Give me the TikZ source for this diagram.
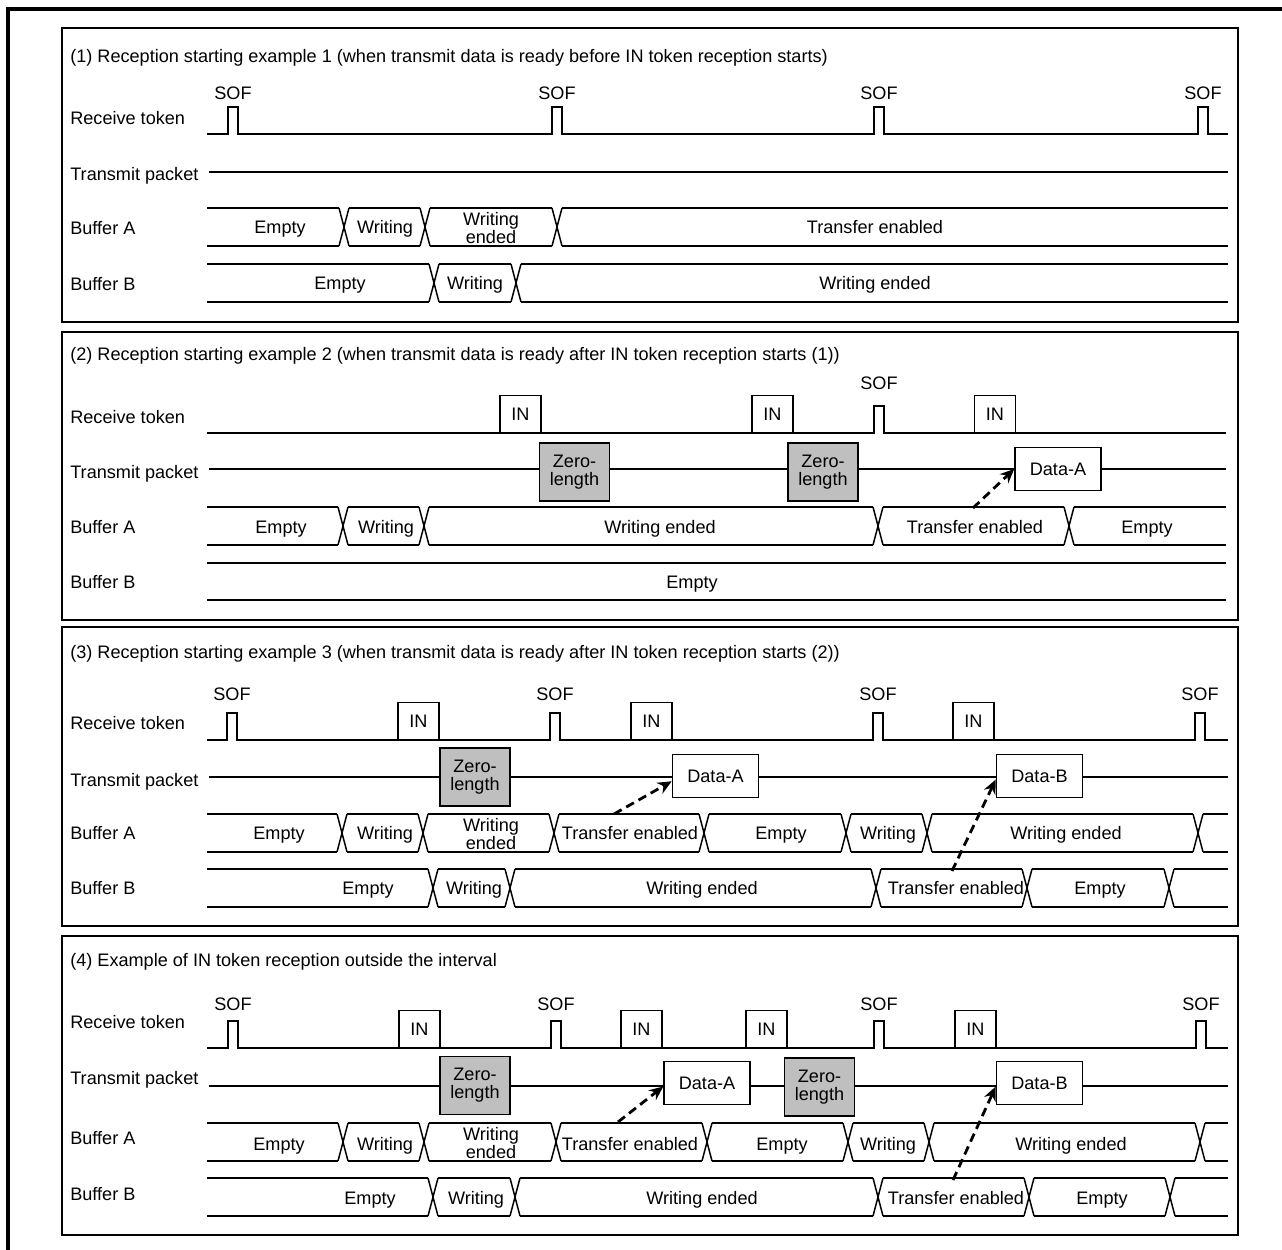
\documentclass[tikz,border=0pt]{standalone}
\usepackage{fontspec}
\setmainfont{Liberation Sans}
\usetikzlibrary{arrows.meta}
\tikzset{>={Stealth[length=8pt,width=7pt]},every node/.style={font=\fontsize{10.3}{10.4}\selectfont},sig/.style={line width=.85pt},cadre/.style={line width=1.1pt},nom/.style={anchor=west,inner sep=0,text height=7.3pt,text depth=0pt},etat/.style={inner sep=0,text height=7.3pt,text depth=0pt},deux/.style={inner sep=0,align=center}}
\tikzset{jeton/.style={draw,sig,fill=white,minimum width=.82cm,minimum height=.74cm,inner sep=0,anchor=south,text height=7.3pt,text depth=0pt},paquet/.style={draw,sig,fill=white,minimum width=1.72cm,minimum height=.86cm,inner sep=0,text height=7.3pt,text depth=0pt},
vide/.style={draw,sig,fill=gray!50,minimum width=1.4cm,minimum height=1.16cm,inner sep=0,align=center},trig/.style={->,line width=1.6pt,dash pattern=on 5pt off 3pt}}
% ligne des jetons : #1 y, #2 debut, #3 fin, #4 impulsions SOF
\newcommand{\ligne}[4]{\draw[sig] (#2,#1) foreach \p in {#4}{ -- (\p,#1) -- ++(0,-27) -- ++(10,0) -- ++(0,27)} -- (#3,#1);}
% bus : #1 y milieu, #2 debut, #3 fin, #4 transitions
\newcommand{\voie}[4]{\foreach \t [remember=\t as \q (initially #2-5)] in {#4,#3+5}{\draw[sig] (\q+5,#1-19)--(\t-5,#1-19) (\q+5,#1+19)--(\t-5,#1+19);}
\foreach \t in {#4}{\draw[sig] (\t-5,#1-19)--(\t+5,#1+19) (\t-5,#1+19)--(\t+5,#1-19);}}

\begin{document}
\begin{tikzpicture}[x=.02cm,y=-.02cm]
\useasboundingbox (0,0) rectangle (1282,1250);
\draw[line width=2pt] (8,1250)--(8,9)--(1282,9);
% (1)
\draw[cadre] (62,28) rectangle (1238,322);
\node[nom] (ti1) at (70,56) {(1) Reception starting example 1 (when transmit data is ready before IN token reception starts)};
\node[nom] (rt1) at (70,118) {Receive token};\node[nom] (tp1) at (70,174) {Transmit packet};\node[nom] (ba1) at (70,228) {Buffer A};\node[nom] (bb1) at (70,284) {Buffer B};
\ligne{134}{207}{1228}{228,552,874,1198}
\foreach \p [count=\i] in {228,552,874,1198} \node[etat] (sof1\i) at (\p+5,93) {SOF};
\draw[sig] (209,172)--(1228,172);
\voie{227}{207}{1228}{344,425,557}
\foreach \x/\s [count=\i] in {280/Empty,385/Writing,875/Transfer enabled} \node[etat] (ea1\i) at (\x,227) {\s};
\node[deux] (we1) at (491,228) {Writing\\ended};
\voie{283}{207}{1228}{434,516}
\foreach \x/\s [count=\i] in {340/Empty,475/Writing,875/Writing ended} \node[etat] (eb1\i) at (\x,283) {\s};
% (2)
\draw[cadre] (62,332) rectangle (1238,620);
\node[nom] (ti2) at (70,354) {(2) Reception starting example 2 (when transmit data is ready after IN token reception starts (1))};
\node[nom] (rt2) at (70,417) {Receive token};\node[nom] (tp2) at (70,472) {Transmit packet};\node[nom] (ba2) at (70,527) {Buffer A};\node[nom] (bb2) at (70,582) {Buffer B};
\ligne{433}{207}{1226}{874}
\node[etat] (sof21) at (879,383) {SOF};
\foreach \x [count=\i] in {520.5,772.5,995} \node[jeton] (in2\i) at (\x,433) {IN};
\draw[sig] (209,469)--(1226,469);
\node[vide] (z21) at (574.5,472) {Zero-\\length};\node[vide] (z22) at (823,472) {Zero-\\length};
\node[paquet] (dA2) at (1058,469) {Data-A};
\voie{526}{207}{1226}{343,424,878,1069}
\foreach \x/\s [count=\i] in {281/Empty,386/Writing,660/Writing ended,975/Transfer enabled,1147/Empty} \node[etat] (ea2\i) at (\x,527) {\s};
\draw[sig] (207,563)--(1226,563) (207,600)--(1226,600);
\node[etat] (eb21) at (692,582) {Empty};
\coordinate (q2) at (973,508);\draw[trig] (q2)--(dA2.west);
% (3)
\draw[cadre] (62,627) rectangle (1238,926);
\node[nom] (ti3) at (70,652) {(3) Reception starting example 3 (when transmit data is ready after IN token reception starts (2))};
\node[nom] (rt3) at (70,723) {Receive token};\node[nom] (tp3) at (70,780) {Transmit packet};\node[nom] (ba3) at (70,833) {Buffer A};\node[nom] (bb3) at (70,888) {Buffer B};
\ligne{740}{207}{1228}{227,550,873,1195}
\foreach \p [count=\i] in {227,550,873,1195} \node[etat] (sof3\i) at (\p+5,694) {SOF};
\foreach \x [count=\i] in {418.5,651.5,973.5} \node[jeton] (in3\i) at (\x,740) {IN};
\draw[sig] (209,777)--(1228,777);
\node[vide] (z31) at (475,777) {Zero-\\length};
\node[paquet] (dA3) at (715.5,776) {Data-A};\node[paquet] (dB3) at (1039.5,776) {Data-B};
\voie{833}{207}{1228}{342,423,554,704,846,927,1198}
\foreach \x/\s [count=\i] in {279/Empty,385/Writing,630/Transfer enabled,781/Empty,888/Writing,1066/Writing ended} \node[etat] (ea3\i) at (\x,833) {\s};
\node[deux] (we3) at (491,834) {Writing\\ended};
\voie{888}{207}{1228}{433,510,876,1027,1169}
\foreach \x/\s [count=\i] in {368/Empty,474/Writing,702/Writing ended,956/Transfer enabled,1100/Empty} \node[etat] (eb3\i) at (\x,888) {\s};
\coordinate (q3a) at (614,814);\draw[trig] (q3a)--([yshift=-3pt]dA3.west);
\coordinate (q3b) at (952,871);\draw[trig] (q3b)--([yshift=-2pt]dB3.west);
% (4)
\draw[cadre] (62,936) rectangle (1238,1235);
\node[nom] (ti4) at (70,960) {(4) Example of IN token reception outside the interval};
\node[nom] (rt4) at (70,1022) {Receive token};\node[nom] (tp4) at (70,1078) {Transmit packet};\node[nom] (ba4) at (70,1138) {Buffer A};\node[nom] (bb4) at (70,1194) {Buffer B};
\ligne{1048}{207}{1228}{228,551,874,1196}
\foreach \p [count=\i] in {228,551,874,1196} \node[etat] (sof4\i) at (\p+5,1004) {SOF};
\foreach \x [count=\i] in {419.5,641.5,766.5,975.5} \node[jeton] (in4\i) at (\x,1048) {IN};
\draw[sig] (209,1086)--(1228,1086);
\node[vide] (z41) at (475,1085.5) {Zero-\\length};\node[vide] (z42) at (819.5,1087) {Zero-\\length};
\node[paquet] (dA4) at (707,1083) {Data-A};\node[paquet] (dB4) at (1039.5,1083) {Data-B};
\voie{1142}{207}{1228}{343,424,556,707,848,929,1200}
\foreach \x/\s [count=\i] in {279/Empty,385/Writing,630/Transfer enabled,782/Empty,888/Writing,1071/Writing ended} \node[etat] (ea4\i) at (\x,1144) {\s};
\node[deux] (we4) at (491,1143) {Writing\\ended};
\voie{1197}{207}{1228}{433,515,878,1029,1170}
\foreach \x/\s [count=\i] in {370/Empty,476/Writing,702/Writing ended,956/Transfer enabled,1102/Empty} \node[etat] (eb4\i) at (\x,1198) {\s};
\coordinate (q4a) at (618,1122);\draw[trig] (q4a)--([yshift=-2pt]dA4.west);
\coordinate (q4b) at (953,1180);\draw[trig] (q4b)--([yshift=-2pt]dB4.west);
\end{tikzpicture}
\end{document}
